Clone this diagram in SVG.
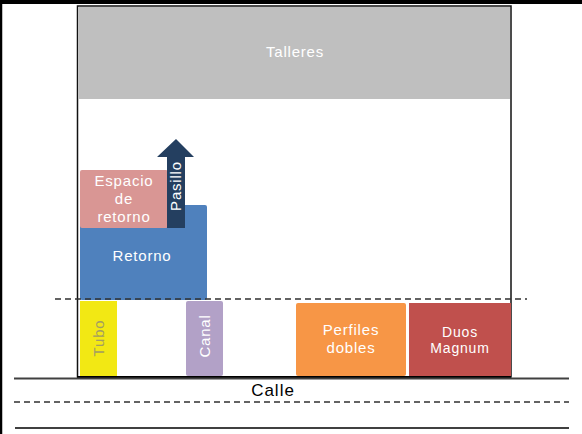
<svg xmlns="http://www.w3.org/2000/svg" width="582" height="434" viewBox="0 0 582 434">
  <style>
    .lbl { font-family: "Liberation Sans", "DejaVu Sans", sans-serif; font-size: 15px; letter-spacing: 0.8px; text-anchor: middle; fill: #ffffff; }
    .line { stroke: #404040; stroke-width: 2; fill: none; }
    .dash { stroke: #303030; stroke-width: 1.5; stroke-dasharray: 6 4; fill: none; }
  </style>
  <rect x="0" y="0" width="582" height="434" fill="#ffffff"/>

  <!-- page border -->
  <g id="page-border">
    <line x1="0" y1="2" x2="582" y2="2" stroke="#000" stroke-width="4"/>
    <line x1="1" y1="0" x2="1" y2="434" stroke="#000" stroke-width="2.5"/>
  </g>

  <!-- plant outline -->
  <g id="plant">
    <rect x="77.5" y="6" width="433.5" height="371" fill="none" stroke="#111" stroke-width="1.5"/>
  </g>

  <g id="talleres">
    <rect x="79" y="7" width="431" height="92" fill="#bfbfbf"/>
    <text class="lbl" x="295" y="57">Talleres</text>
  </g>

  <g id="retorno">
    <rect x="80" y="205" width="127" height="95" rx="2" fill="#4f81bd"/>
    <text class="lbl" x="142" y="261">Retorno</text>
  </g>

  <g id="espacio-retorno">
    <rect x="80" y="170" width="88" height="58" rx="2" fill="#d99694"/>
    <text class="lbl" x="124" y="186">Espacio</text>
    <text class="lbl" x="124" y="204">de</text>
    <text class="lbl" x="124" y="222">retorno</text>
  </g>

  <g id="pasillo">
    <path d="M167,228 L167,157 L157,157 L176,139 L194,157 L185,157 L185,228 Z" fill="#243f60"/>
    <text class="lbl" transform="translate(181,186) rotate(-90)">Pasillo</text>
  </g>

  <g id="tubo">
    <rect x="80" y="301" width="37" height="75" fill="#f2e814"/>
    <text class="lbl" transform="translate(104,338) rotate(-90)" style="fill:#a39d62">Tubo</text>
  </g>

  <g id="canal">
    <rect x="186" y="301" width="37" height="75" rx="2" fill="#b2a1c7"/>
    <text class="lbl" transform="translate(210,336) rotate(-90)">Canal</text>
  </g>

  <g id="perfiles">
    <rect x="296" y="303" width="110" height="73" rx="2" fill="#f79646"/>
    <text class="lbl" x="351" y="335">Perfiles</text>
    <text class="lbl" x="351" y="353">dobles</text>
  </g>

  <g id="duos">
    <rect x="409" y="303" width="102" height="73" fill="#c0504d"/>
    <text class="lbl" x="460" y="337" style="font-size:14px">Duos</text>
    <text class="lbl" x="460" y="353" style="font-size:14px">Magnum</text>
  </g>

  <!-- street lines and markers -->
  <g id="connectors">
    <line class="dash" x1="55" y1="299" x2="527" y2="299"/>
    <line x1="77" y1="377" x2="511" y2="377" stroke="#000" stroke-width="2"/>
    <line class="line" x1="14" y1="378.5" x2="569" y2="378.5"/>
    <line class="dash" x1="14" y1="402" x2="569" y2="402"/>
    <line class="line" x1="15" y1="428" x2="569" y2="428"/>
  </g>

  <g id="calle">
    <text x="273" y="396" style="font-family:'Liberation Sans','DejaVu Sans',sans-serif;font-size:17px;letter-spacing:1px;text-anchor:middle;fill:#000">Calle</text>
  </g>
</svg>
